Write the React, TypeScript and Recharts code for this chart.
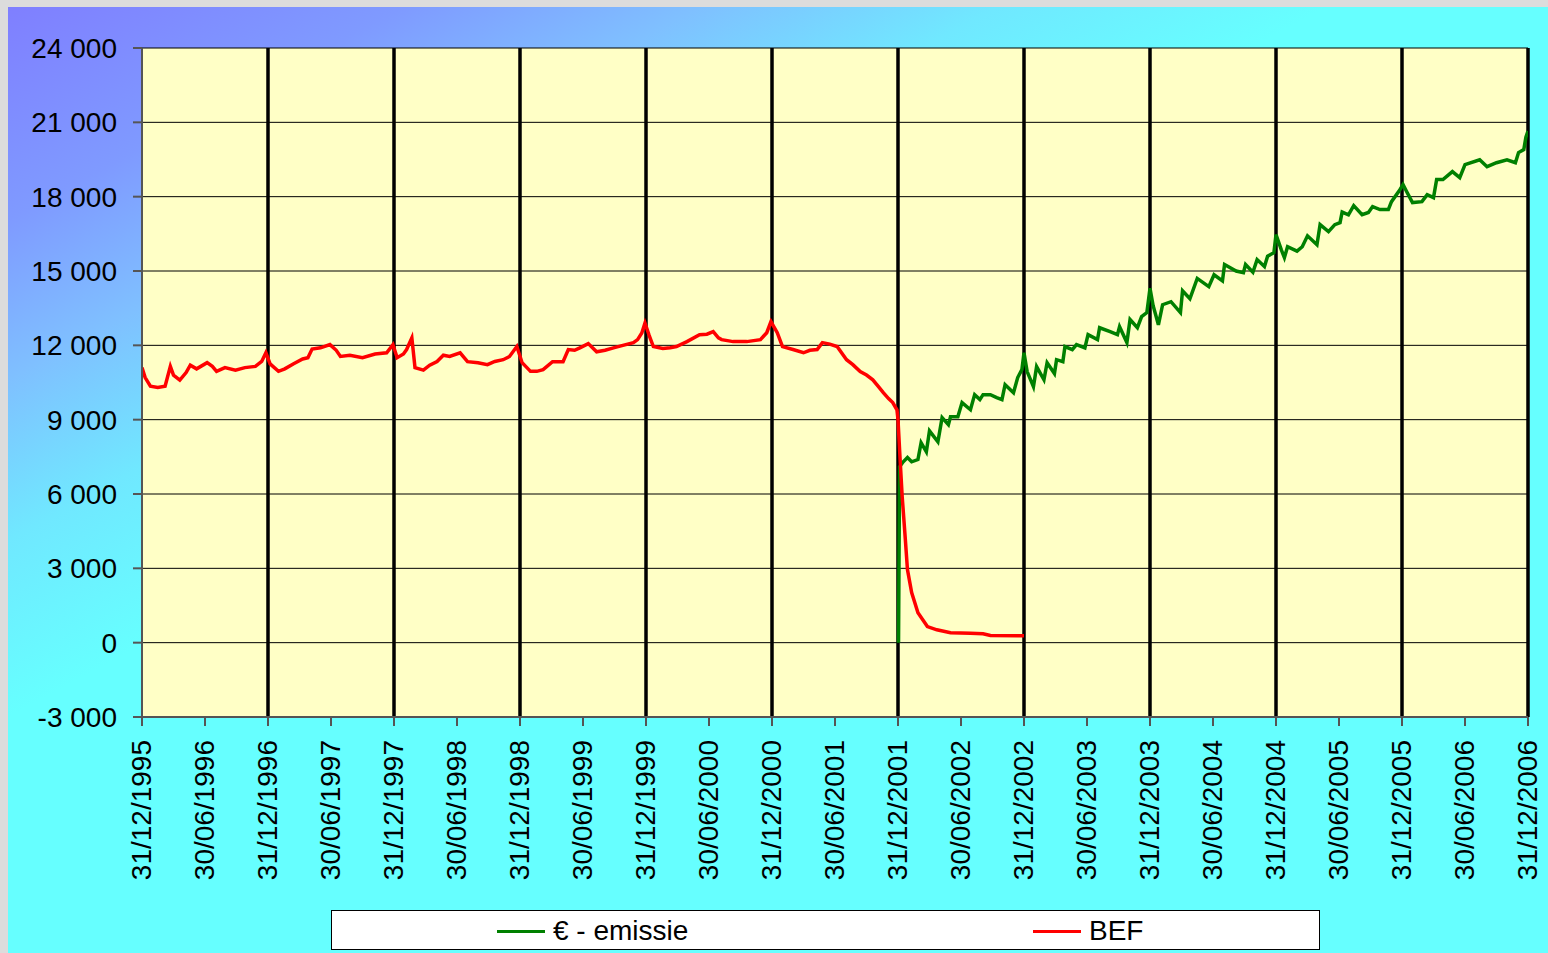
import React from "react";
import { LineChart, Line, XAxis, YAxis, CartesianGrid, ReferenceLine } from "recharts";

// x unit: months since 31/12/1995
const tickLabels = [
  "31/12/1995", "30/06/1996", "31/12/1996", "30/06/1997", "31/12/1997", "30/06/1998",
  "31/12/1998", "30/06/1999", "31/12/1999", "30/06/2000", "31/12/2000", "30/06/2001",
  "31/12/2001", "30/06/2002", "31/12/2002", "30/06/2003", "31/12/2003", "30/06/2004",
  "31/12/2004", "30/06/2005", "31/12/2005", "30/06/2006", "31/12/2006",
];
const tickMonths = [0, 6, 12, 18, 24, 30, 36, 42, 48, 54, 60, 66, 72, 78, 84, 90, 96, 102, 108, 114, 120, 126, 132];
const yearLineMonths = [12, 24, 36, 48, 60, 72, 84, 96, 108, 120, 132];
const yTicks = [-3000, 0, 3000, 6000, 9000, 12000, 15000, 18000, 21000, 24000];

const befMonths = [
  0, 0.3, 0.8, 1.5, 2.2, 2.7, 3.0, 3.6, 4.2, 4.6, 5.2, 6.2, 6.7, 7.1, 7.9, 8.9, 9.8, 10.8, 11.4, 11.8,
  12.2, 13.0, 13.6, 14.4, 15.3, 15.8, 16.2, 17.0, 17.9, 18.5, 18.9, 19.8, 21.0, 22.2, 23.3, 23.9,
  24.3, 24.9, 25.2, 25.7, 26.0, 26.8, 27.4, 28.1, 28.7, 29.3, 30.3, 31.0, 32.0, 32.9, 33.6, 34.4, 35.0, 35.7,
  36.2, 37.0, 37.6, 38.2, 39.1, 40.1, 40.6, 41.2, 41.7, 42.5, 43.3, 44.1, 44.9, 45.8, 46.8, 47.2, 47.6, 47.9,
  48.3, 48.7, 49.6, 50.3, 50.9, 51.9, 53.1, 53.8, 54.4, 54.9, 55.2, 56.3, 57.6, 58.9, 59.5, 59.9,
  60.5, 61.0, 62.0, 63.0, 63.6, 64.3, 64.8, 65.5, 66.2, 67.1, 67.7, 68.4, 69.0, 69.6, 70.1, 70.6, 71.1, 71.5, 71.9,
  72.0, 72.2, 72.4, 72.7, 72.9, 73.3, 73.9, 74.8, 75.7, 77.0, 78.9, 80.1, 80.8, 84.0,
];
const befValues = [
  11100, 10700, 10350, 10300, 10350, 11150, 10800, 10600, 10900, 11200, 11050, 11300, 11150, 10950, 11100, 11000, 11100, 11150, 11350, 11700,
  11250, 10950, 11050, 11250, 11450, 11500, 11850, 11900, 12030, 11800, 11550, 11600, 11500, 11650, 11700, 12030,
  11500, 11650, 11830, 12300, 11100, 11000, 11200, 11350, 11600, 11550, 11700, 11340, 11300, 11220, 11350, 11420, 11550, 11950,
  11300, 10950, 10950, 11020, 11340, 11340, 11830, 11800, 11900, 12070, 11740, 11800, 11900, 12000, 12110, 12230, 12500, 12900,
  12400, 11950, 11870, 11900, 11950, 12150, 12430, 12450, 12550, 12300, 12230, 12150, 12150, 12230, 12510, 12960,
  12510, 11950, 11830, 11700, 11800, 11830, 12110, 12050, 11950, 11420, 11220, 10940, 10800, 10610, 10350, 10090, 9850, 9690, 9400,
  9000, 7400, 5890, 4160, 2950, 2020, 1210, 650, 520, 400, 380, 360, 290, 280,
];

const euroMonths = [
  72.05, 72.15, 72.5, 72.9, 73.3, 73.9, 74.2, 74.7, 75.0, 75.8, 76.2, 76.8, 77.0, 77.7, 78.1, 78.9, 79.3, 79.8,
  80.1, 80.8, 81.4, 81.9, 82.2, 83.0, 83.4, 83.8, 84.0, 84.3, 84.9, 85.2, 85.9, 86.2, 86.9, 87.1, 87.7, 87.9,
  88.6, 89.0, 89.8, 90.1, 91.0, 91.2, 92.2, 92.9, 93.1, 93.8, 94.1, 94.8, 95.2, 95.7, 96.0, 96.3, 96.8, 97.2,
  98.0, 98.9, 99.1, 99.8, 100.5, 101.6, 102.1, 102.9, 103.1, 104.2, 104.9, 105.1, 105.8, 106.2, 106.9, 107.2,
  107.8, 108.0, 108.5, 108.8, 109.1, 110.0, 110.5, 111.0, 111.9, 112.2, 113.0, 113.6, 114.1, 114.3, 114.9,
  115.4, 116.2, 116.8, 117.2, 117.9, 118.7, 119.0, 119.8, 120.1, 120.5, 121.0, 121.9, 122.4, 123.0, 123.3,
  123.9, 124.8, 125.5, 126.0, 127.4, 128.1, 129.0, 130.0, 130.8, 131.1, 131.6, 131.8, 132.0,
];
const euroValues = [
  0, 7100, 7300, 7470, 7300, 7390, 8070, 7700, 8550, 8110, 9080, 8800, 9120, 9120, 9690, 9400, 10010, 9810,
  10010, 10010, 9890, 9810, 10410, 10090, 10700, 11020, 11700, 10940, 10330, 11140, 10610, 11300, 10860, 11420, 11340, 11950,
  11830, 12030, 11900, 12430, 12230, 12710, 12550, 12430, 12750, 12110, 13040, 12710, 13160, 13320, 14300, 13600, 12830, 13640,
  13760, 13320, 14200, 13880, 14700, 14370, 14850, 14600, 15260, 15000, 14930, 15260, 14950, 15460, 15180, 15600,
  15740, 16470, 15860, 15540, 15980, 15800, 15980, 16420, 16060, 16870, 16590, 16870, 16950, 17380, 17270,
  17640, 17270, 17360, 17600, 17480, 17480, 17800, 18280, 18490, 18160, 17760, 17800, 18080, 17960, 18690,
  18690, 19010, 18770, 19290, 19490, 19210, 19370, 19490, 19370, 19780, 19900, 20400, 20650,
];

const befData = befMonths.map((m, i) => ({ m, v: befValues[i] }));
const euroData = euroMonths.map((m, i) => ({ m, v: euroValues[i] }));

const FONT = "'Liberation Sans', Arial, sans-serif";

const fmtY = (v: number) => {
  const s = Math.abs(v).toString();
  const withSep = s.replace(/\B(?=(\d{3})+(?!\d))/g, " ");
  return (v < 0 ? "-" : "") + withSep;
};

const XTick = (props: any) => {
  const { x, y, payload } = props;
  const idx = tickMonths.indexOf(payload.value);
  const label = idx >= 0 ? tickLabels[idx] : "";
  return (
    <g transform={`translate(${x},${y}) rotate(-90)`}>
      <text x={0} y={0} dy={9} textAnchor="end" fill="#000" fontSize={28} fontFamily={FONT}>
        {label}
      </text>
    </g>
  );
};

export default function App() {
  return (
    <div style={{ position: "absolute", left: 0, top: 0, width: 1548, height: 953, background: "#dcdcdc", overflow: "hidden" }}>
      <div
        style={{
          position: "absolute",
          left: 8,
          top: 7,
          width: 1540,
          height: 946,
          background:
            "linear-gradient(151.7deg, #7f7fff 0%, #7f9aff 12%, #7fc0ff 21%, #70e8ff 30%, #66ffff 40%, #66ffff 100%)",
        }}
      >
        <LineChart width={1540} height={946} margin={{ top: 41, right: 20, bottom: 0, left: 0 }}>
          <CartesianGrid horizontal={true} vertical={false} stroke="#000" strokeWidth={1} fill="#FFFFC6" fillOpacity={1} />
          <XAxis
            dataKey="m"
            type="number"
            domain={[0, 132]}
            ticks={tickMonths}
            interval={0}
            height={236}
            tickSize={9}
            tickMargin={14}
            stroke="#555"
            strokeWidth={2}
            tick={<XTick />}
            allowDataOverflow
          />
          <YAxis
            type="number"
            domain={[-3000, 24000]}
            ticks={yTicks}
            interval={0}
            width={134}
            tickSize={9}
            tickMargin={16}
            stroke="#555"
            strokeWidth={2}
            tickFormatter={fmtY}
            tick={{ fill: "#000", fontSize: 28, fontFamily: FONT }}
            allowDataOverflow
          />
          {yearLineMonths.map((m) => (
            <ReferenceLine key={m} x={m} stroke="#000" strokeWidth={3.5} />
          ))}
          <Line
            data={euroData}
            dataKey="v"
            type="linear"
            stroke="#008000"
            strokeWidth={3.5}
            dot={false}
            isAnimationActive={false}
            name="€ - emissie"
          />
          <Line
            data={befData}
            dataKey="v"
            type="linear"
            stroke="#FF0000"
            strokeWidth={3.5}
            dot={false}
            isAnimationActive={false}
            name="BEF"
          />
        </LineChart>
        <div
          style={{
            position: "absolute",
            left: 323,
            top: 903,
            width: 987,
            height: 38,
            background: "#fff",
            border: "1px solid #000",
            fontFamily: FONT,
            fontSize: 28,
            color: "#000",
          }}
        >
          <div style={{ position: "absolute", left: 165, top: 19, width: 48, height: 3, background: "#008000" }} />
          <div style={{ position: "absolute", left: 221, top: 0, height: 40, lineHeight: "40px", whiteSpace: "nowrap" }}>€ - emissie</div>
          <div style={{ position: "absolute", left: 701, top: 19, width: 48, height: 3, background: "#FF0000" }} />
          <div style={{ position: "absolute", left: 757, top: 0, height: 40, lineHeight: "40px", whiteSpace: "nowrap" }}>BEF</div>
        </div>
      </div>
    </div>
  );
}
